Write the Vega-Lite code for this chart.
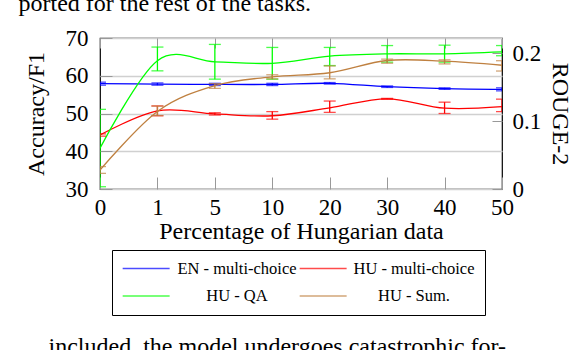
{
  "$schema": "https://vega.github.io/schema/vega-lite/v6.json",
  "width": 402,
  "height": 151,
  "autosize": "none",
  "padding": {"left": 100, "top": 38, "right": 72, "bottom": 161},
  "config": {
    "font": "Liberation Serif",
    "view": {"stroke": "black", "strokeWidth": 1.2},
    "axis": {"labelColor": "black", "titleColor": "black", "titleFontWeight": "normal", "domain": false, "grid": false}
  },
  "datasets": {
    "left": [
      {"s": "EN - multi-choice", "x": 0, "v": 57.9, "lo": 57.5, "hi": 58.3},
      {"s": "EN - multi-choice", "x": 1, "v": 57.8, "lo": 57.5, "hi": 58.1},
      {"s": "EN - multi-choice", "x": 5, "v": 57.7, "lo": 57.4, "hi": 58.0},
      {"s": "EN - multi-choice", "x": 10, "v": 57.7, "lo": 57.4, "hi": 58.0},
      {"s": "EN - multi-choice", "x": 20, "v": 58.0, "lo": 57.8, "hi": 58.2},
      {"s": "EN - multi-choice", "x": 30, "v": 57.1, "lo": 56.9, "hi": 57.3},
      {"s": "EN - multi-choice", "x": 40, "v": 56.6, "lo": 56.4, "hi": 56.8},
      {"s": "EN - multi-choice", "x": 50, "v": 56.4, "lo": 56.0, "hi": 56.8},
      {"s": "HU - multi-choice", "x": 0, "v": 44.3, "lo": 44.0, "hi": 44.6},
      {"s": "HU - multi-choice", "x": 1, "v": 50.7, "lo": 49.4, "hi": 52.0},
      {"s": "HU - multi-choice", "x": 5, "v": 49.9, "lo": 49.6, "hi": 50.2},
      {"s": "HU - multi-choice", "x": 10, "v": 49.4, "lo": 48.5, "hi": 50.5},
      {"s": "HU - multi-choice", "x": 20, "v": 51.5, "lo": 50.3, "hi": 53.3},
      {"s": "HU - multi-choice", "x": 30, "v": 53.9, "lo": 53.8, "hi": 54.0},
      {"s": "HU - multi-choice", "x": 40, "v": 51.4, "lo": 50.0, "hi": 53.0},
      {"s": "HU - multi-choice", "x": 50, "v": 51.8, "lo": 50.5, "hi": 53.8},
      {"s": "HU - QA", "x": 0, "v": 40.8, "lo": 30.6, "hi": 51.1},
      {"s": "HU - QA", "x": 1, "v": 64.0, "lo": 61.3, "hi": 67.6},
      {"s": "HU - QA", "x": 5, "v": 63.7, "lo": 59.1, "hi": 68.3},
      {"s": "HU - QA", "x": 10, "v": 63.3, "lo": 59.1, "hi": 67.5},
      {"s": "HU - QA", "x": 20, "v": 65.2, "lo": 62.7, "hi": 67.5},
      {"s": "HU - QA", "x": 30, "v": 65.8, "lo": 63.6, "hi": 68.0},
      {"s": "HU - QA", "x": 40, "v": 65.8, "lo": 63.6, "hi": 68.1},
      {"s": "HU - QA", "x": 50, "v": 66.3, "lo": 65.3, "hi": 68.0}
    ],
    "right": [
      {"s": "HU - Sum.", "x": 0, "v": 0.028, "lo": 0.023, "hi": 0.033},
      {"s": "HU - Sum.", "x": 1, "v": 0.114, "lo": 0.108, "hi": 0.122},
      {"s": "HU - Sum.", "x": 5, "v": 0.152, "lo": 0.148, "hi": 0.155},
      {"s": "HU - Sum.", "x": 10, "v": 0.165, "lo": 0.162, "hi": 0.168},
      {"s": "HU - Sum.", "x": 20, "v": 0.171, "lo": 0.162, "hi": 0.181},
      {"s": "HU - Sum.", "x": 30, "v": 0.189, "lo": 0.185, "hi": 0.191},
      {"s": "HU - Sum.", "x": 40, "v": 0.188, "lo": 0.184, "hi": 0.190},
      {"s": "HU - Sum.", "x": 50, "v": 0.182, "lo": 0.1735, "hi": 0.1887}
    ]
  },
  "layer": [
    {
      "data": {"name": "left"},
      "mark": {"type": "line", "interpolate": "cardinal", "strokeWidth": 1.3, "clip": true},
      "encoding": {
        "x": {"field": "x", "type": "ordinal", "scale": {"type": "point", "padding": 0, "domain": [0, 1, 5, 10, 20, 30, 40, 50]},
          "axis": {"orient": "bottom", "labelAngle": 0, "ticks": false, "labelFontSize": 23, "labelBaseline": "alphabetic", "labelPadding": 25,
            "title": "Percentage of Hungarian data", "titleFontSize": 24, "titleX": 201, "titleY": 49, "titleBaseline": "alphabetic", "titleAlign": "center"}},
        "y": {"field": "v", "type": "quantitative", "scale": {"domain": [30, 70], "nice": false, "zero": false},
          "axis": {"orient": "left", "values": [30, 40, 50, 60, 70], "grid": true, "gridColor": "#d0d0d0", "gridWidth": 1.5, "ticks": false,
            "labelFontSize": 23, "labelPadding": 12, "labelBaseline": "middle",
            "title": "Accuracy/F1", "titleFontSize": 24, "titleAngle": -90, "titleX": -57, "titleY": 75.5, "titleBaseline": "alphabetic", "titleAlign": "center"}},
        "color": {"field": "s", "type": "nominal",
          "scale": {"domain": ["EN - multi-choice", "HU - QA", "HU - multi-choice", "HU - Sum."], "range": ["#0000ff", "#00ff00", "#ff0000", "#bf8040"]},
          "legend": {"orient": "none", "legendX": 12, "legendY": 212, "columns": 2, "title": null, "symbolType": "M-1,0H5", "symbolSize": 245, "symbolStrokeWidth": 1.3,
            "labelFont": "Liberation Serif", "labelFontSize": 16.5, "labelColor": "black", "labelAlign": "center", "labelOffset": 98, "labelLimit": 300,
            "strokeColor": "black", "padding": 10, "rowPadding": 10.5, "columnPadding": 0}}
      }
    },
    {
      "data": {"name": "left"},
      "mark": {"type": "rule", "strokeWidth": 1.3, "clip": true},
      "encoding": {
        "x": {"field": "x", "type": "ordinal",
          "axis": {"orient": "bottom", "labels": false, "ticks": true, "tickSize": -12, "tickColor": "#999999", "tickWidth": 1,
            "title": "included, the model undergoes catastrophic for-", "titleFontSize": 24, "titleX": -52, "titleY": 164, "titleBaseline": "alphabetic", "titleAlign": "left"}},
        "y": {"field": "lo", "type": "quantitative", "scale": {"domain": [30, 70], "nice": false, "zero": false},
          "axis": {"orient": "left", "values": [30, 40, 50, 60, 70], "labels": false, "ticks": true, "tickSize": -12, "tickColor": "#999999", "title": null}},
        "y2": {"field": "hi"},
        "color": {"field": "s", "type": "nominal"}
      }
    },
    {
      "data": {"name": "left"},
      "mark": {"type": "tick", "thickness": 1.3, "size": 12, "clip": true},
      "encoding": {
        "x": {"field": "x", "type": "ordinal", "axis": null},
        "y": {"field": "lo", "type": "quantitative", "scale": {"domain": [30, 70], "nice": false, "zero": false}, "axis": null},
        "color": {"field": "s", "type": "nominal"}
      }
    },
    {
      "data": {"name": "left"},
      "mark": {"type": "tick", "thickness": 1.3, "size": 12, "clip": true},
      "encoding": {
        "x": {"field": "x", "type": "ordinal", "axis": null},
        "y": {"field": "hi", "type": "quantitative", "scale": {"domain": [30, 70], "nice": false, "zero": false}, "axis": null},
        "color": {"field": "s", "type": "nominal"}
      }
    },
    {
      "data": {"name": "right"},
      "mark": {"type": "line", "interpolate": "cardinal", "strokeWidth": 1.3, "clip": true},
      "encoding": {
        "x": {"field": "x", "type": "ordinal",
          "axis": {"orient": "top", "labels": false, "ticks": true, "tickSize": -10, "tickColor": "#999999",
            "title": "ported for the rest of the tasks.", "titleFontSize": 24, "titleX": -82, "titleY": -28, "titleBaseline": "alphabetic", "titleAlign": "left"}},
        "y": {"field": "v", "type": "quantitative", "scale": {"domain": [0, 0.2221], "nice": false, "zero": false},
          "axis": {"orient": "right", "values": [0, 0.1, 0.2], "format": "~g", "ticks": false, "labelFontSize": 23, "labelPadding": 10, "labelBaseline": "middle",
            "title": "ROUGE-2", "titleFontSize": 24, "titleAngle": 90, "titleX": 50, "titleY": 75.5, "titleBaseline": "alphabetic", "titleAlign": "center"}},
        "color": {"field": "s", "type": "nominal"}
      }
    },
    {
      "data": {"name": "right"},
      "mark": {"type": "rule", "strokeWidth": 1.3, "clip": true},
      "encoding": {
        "x": {"field": "x", "type": "ordinal", "axis": null},
        "y": {"field": "lo", "type": "quantitative", "scale": {"domain": [0, 0.2221], "nice": false, "zero": false},
          "axis": {"orient": "right", "values": [0, 0.1, 0.2], "labels": false, "ticks": true, "tickSize": -10, "tickColor": "#999999", "title": null}},
        "y2": {"field": "hi"},
        "color": {"field": "s", "type": "nominal"}
      }
    },
    {
      "data": {"name": "right"},
      "mark": {"type": "tick", "thickness": 1.3, "size": 12, "clip": true},
      "encoding": {
        "x": {"field": "x", "type": "ordinal", "axis": null},
        "y": {"field": "lo", "type": "quantitative", "scale": {"domain": [0, 0.2221], "nice": false, "zero": false}, "axis": null},
        "color": {"field": "s", "type": "nominal"}
      }
    },
    {
      "data": {"name": "right"},
      "mark": {"type": "tick", "thickness": 1.3, "size": 12, "clip": true},
      "encoding": {
        "x": {"field": "x", "type": "ordinal", "axis": null},
        "y": {"field": "hi", "type": "quantitative", "scale": {"domain": [0, 0.2221], "nice": false, "zero": false}, "axis": null},
        "color": {"field": "s", "type": "nominal"}
      }
    }
  ],
  "resolve": {"scale": {"y": "independent"}, "axis": {"x": "independent", "y": "independent"}}
}
